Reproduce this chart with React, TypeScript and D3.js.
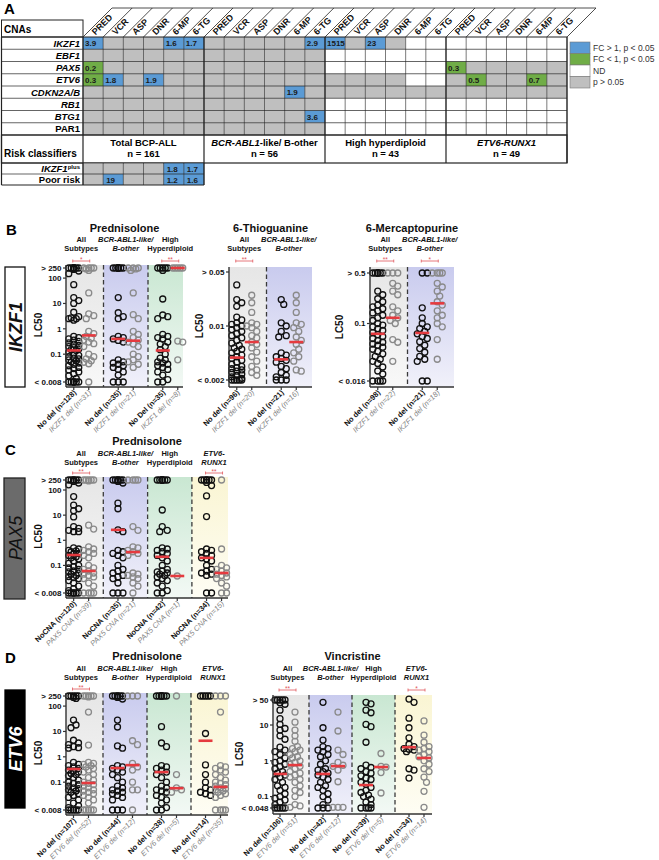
import React from "react";
import * as d3 from "d3";

const FONT = "'Liberation Sans', Arial, Helvetica, sans-serif";
const W = 659;
const H = 860;

// ================= Panel A data =================
const drugs = ["PRED", "VCR", "ASP", "DNR", "6-MP", "6-TG"];
const subgroupParts: [string, boolean][][] = [
  [["Total BCP-ALL", false]],
  [["BCR-ABL1", true], ["-like/ B-other", false]],
  [["High hyperdiploid", false]],
  [["ETV6-RUNX1", true]],
];
const subgroupN = ["n = 161", "n = 56", "n = 43", "n = 49"];
const cnaRows = ["IKZF1", "EBF1", "PAX5", "ETV6", "CDKN2A/B", "RB1", "BTG1", "PAR1"];
const cnaItalic = [true, true, true, true, true, true, true, false];
const cnaStatus = [
  "bsssbb" + "sssssb" + "bsbsww" + "wwwwww",
  "ssssss" + "ssssss" + "wwwwww" + "wwwwww",
  "gsssss" + "ssssss" + "wwwwww" + "gsssss",
  "gbsbss" + "ssssss" + "ssssww" + "sgssgs",
  "ssssss" + "ssssbs" + "ssssss" + "ssssss",
  "ssssss" + "ssssss" + "wwwwww" + "wwwwww",
  "ssssss" + "sssssb" + "wwwwww" + "wwwwww",
  "ssssss" + "ssssss" + "wwwwww" + "wwwwww",
];
const cnaValues: [string, number, string][] = [
  ["IKZF1", 0, "3.9"], ["IKZF1", 4, "1.6"], ["IKZF1", 5, "1.7"], ["IKZF1", 11, "2.9"],
  ["IKZF1", 12, "1515"], ["IKZF1", 14, "23"],
  ["PAX5", 0, "0.2"], ["PAX5", 18, "0.3"],
  ["ETV6", 0, "0.3"], ["ETV6", 1, "1.8"], ["ETV6", 3, "1.9"], ["ETV6", 19, "0.5"], ["ETV6", 22, "0.7"],
  ["CDKN2A/B", 10, "1.9"], ["BTG1", 11, "3.6"],
];
const riskRows = ["IKZF1plus", "Poor risk"];
const riskStatus = ["ssssbb", "sbssbb"];
const riskValues: [string, number, string][] = [
  ["IKZF1plus", 4, "1.8"], ["IKZF1plus", 5, "1.7"],
  ["Poor risk", 1, "19"], ["Poor risk", 4, "1.2"], ["Poor risk", 5, "1.6"],
];
const legendKeys = ["b", "g", "w", "s"];
const legendLabels = ["FC > 1, p < 0.05", "FC < 1, p < 0.05", "ND", "p > 0.05"];
const cellFill: Record<string, string> = { b: "#5b9bd5", g: "#70ad47", w: "#ffffff", s: "#bfbfbf" };

// ================= Dot plot data =================
const predTicks = [0.008, 0.1, 1, 10, 100, 250];
const predTickLabels = ["< 0.008", "0.1", "1", "10", "100", "> 250"];
const tgTicks = [0.002, 0.01, 0.05];
const tgTickLabels = ["< 0.002", "0.01", "> 0.05"];
const mpTicks = [0.016, 0.1, 0.5];
const mpTickLabels = ["< 0.016", "0.1", "> 0.5"];
const vcrTicks = [0.048, 0.1, 1, 10, 50];
const vcrTickLabels = ["< 0.048", "0.1", "1", "10", "> 50"];

// B – Prednisolone / IKZF1
const bPredAllNo = [250, 250, 250, 250, 250, 250, 250, 250, 220, 190, 150, 55, 17, 13, 10, 4.5, 3, 2.7, 2.5, 2.5, 2.2, 0.5, 0.45, 0.4, 0.36, 0.32, 0.28, 0.25, 0.22, 0.2, 0.18, 0.16, 0.15, 0.14, 0.12, 0.1, 0.09, 0.08, 0.07, 0.065, 0.06, 0.055, 0.05, 0.045, 0.04, 0.035, 0.03, 0.027, 0.024, 0.02, 0.017, 0.014, 0.011, 0.008, 0.008, 0.008, 0.008, 0.008, 0.008, 0.008];
const bPredAllDel = [250, 250, 250, 250, 230, 200, 26, 3.9, 3.3, 2.5, 0.8, 0.65, 0.5, 0.42, 0.36, 0.3, 0.26, 0.2, 0.1, 0.08, 0.065, 0.055, 0.048, 0.042, 0.008];
const bPredBcrNo = [250, 250, 250, 250, 250, 250, 250, 250, 17, 4.3, 3, 2.5, 0.5, 0.45, 0.4, 0.35, 0.3, 0.06, 0.05, 0.045, 0.04, 0.035, 0.03, 0.025, 0.02, 0.015, 0.008, 0.008, 0.008];
const bPredBcrDel = [250, 250, 250, 230, 200, 26, 3.6, 2.5, 0.8, 0.6, 0.45, 0.36, 0.3, 0.25, 0.2, 0.1, 0.08, 0.06, 0.05, 0.04, 0.03];
const bPredHhNo = [250, 250, 250, 250, 250, 200, 15, 3.5, 3, 2.5, 0.6, 0.5, 0.45, 0.4, 0.3, 0.25, 0.2, 0.15, 0.1, 0.07, 0.06, 0.05, 0.045, 0.04, 0.035, 0.03, 0.025, 0.02, 0.015, 0.01, 0.008, 0.008];
const bPredHhDel = [250, 250, 250, 250, 250, 0.33, 0.3, 0.06];
const bPredMedians = [0.14, 0.55, 0.4, 0.34, 0.14, 250];
const bPredLabels = ["No del (n=128)", "IKZF1 del (n=31)", "No del (n=35)", "IKZF1 del (n=21)", "No Del (n=35)", "IKZF1 del (n=8)"];

// B – 6-Thioguanine
const bTgAllNo = [0.034, 0.022, 0.02, 0.018, 0.013, 0.012, 0.011, 0.0105, 0.01, 0.0095, 0.009, 0.0085, 0.008, 0.0075, 0.007, 0.0065, 0.006, 0.0056, 0.0052, 0.005, 0.0047, 0.0045, 0.0042, 0.004, 0.0038, 0.0036, 0.0034, 0.0032, 0.003, 0.0029, 0.0028, 0.0027, 0.0026, 0.0025, 0.0024, 0.0023, 0.0022, 0.0021, 0.002, 0.002, 0.002, 0.002, 0.002];
const bTgAllDel = [0.025, 0.02, 0.015, 0.011, 0.0105, 0.01, 0.0095, 0.0085, 0.0075, 0.007, 0.0062, 0.0058, 0.0052, 0.0046, 0.004, 0.0035, 0.003, 0.0027, 0.0025, 0.0023];
const bTgBcrNo = [0.022, 0.019, 0.011, 0.01, 0.0085, 0.0075, 0.0072, 0.0045, 0.0042, 0.004, 0.0038, 0.0036, 0.0034, 0.003, 0.0028, 0.0025, 0.0023, 0.0022, 0.002, 0.002, 0.002];
const bTgBcrDel = [0.025, 0.02, 0.015, 0.011, 0.0105, 0.0095, 0.0085, 0.0072, 0.0065, 0.0058, 0.005, 0.0045, 0.004, 0.0035, 0.0027, 0.0026];
const bTgMedians = [0.0039, 0.0062, 0.0037, 0.0062];
const bTgLabels = ["No del (n=96)", "IKZF1 del (n=20)", "No del (n=21)", "IKZF1 del (n=16)"];

// B – 6-Mercaptopurine
const bMpAllNo = [0.5, 0.5, 0.5, 0.5, 0.5, 0.5, 0.5, 0.28, 0.25, 0.22, 0.2, 0.18, 0.17, 0.16, 0.15, 0.14, 0.13, 0.12, 0.11, 0.1, 0.095, 0.09, 0.085, 0.08, 0.075, 0.07, 0.066, 0.062, 0.058, 0.055, 0.052, 0.05, 0.047, 0.044, 0.041, 0.038, 0.035, 0.032, 0.03, 0.028, 0.025, 0.022, 0.02, 0.016, 0.016, 0.016, 0.016];
const bMpAllDel = [0.5, 0.5, 0.5, 0.36, 0.33, 0.28, 0.25, 0.17, 0.15, 0.13, 0.12, 0.11, 0.1, 0.06, 0.055, 0.03];
const bMpBcrNo = [0.5, 0.5, 0.165, 0.12, 0.1, 0.09, 0.085, 0.078, 0.072, 0.066, 0.062, 0.056, 0.05, 0.045, 0.04, 0.035, 0.032, 0.03, 0.016, 0.016];
const bMpBcrDel = [0.5, 0.5, 0.5, 0.5, 0.36, 0.32, 0.28, 0.24, 0.2, 0.18, 0.15, 0.13, 0.12, 0.1, 0.09, 0.06, 0.032];
const bMpMedians = [0.072, 0.12, 0.074, 0.19];
const bMpLabels = ["No del (n=98)", "IKZF1 del (n=22)", "No del (n=21)", "IKZF1 del (n=18)"];

// C – Prednisolone / PAX5
const cAllNo = [250, 250, 250, 250, 250, 250, 220, 190, 160, 55, 25, 18, 15, 8.5, 3.5, 3, 2.5, 2.2, 2.2, 0.5, 0.45, 0.4, 0.38, 0.35, 0.3, 0.28, 0.25, 0.22, 0.2, 0.18, 0.15, 0.12, 0.1, 0.09, 0.08, 0.07, 0.06, 0.055, 0.05, 0.045, 0.04, 0.036, 0.033, 0.03, 0.025, 0.02, 0.015, 0.012, 0.01, 0.008, 0.008, 0.008, 0.008, 0.008, 0.008];
const cAllCna = [250, 250, 250, 250, 250, 230, 4, 2.8, 0.55, 0.45, 0.4, 0.35, 0.3, 0.25, 0.2, 0.1, 0.08, 0.07, 0.06, 0.05, 0.045, 0.04, 0.035, 0.03, 0.02, 0.015, 0.008, 0.008, 0.008, 0.008];
const cBcrNo = [250, 250, 250, 250, 250, 250, 220, 190, 30, 18, 2.6, 2.2, 0.4, 0.35, 0.3, 0.25, 0.2, 0.1, 0.07, 0.06, 0.05, 0.04, 0.035, 0.03, 0.02, 0.008, 0.008, 0.008];
const cBcrCna = [250, 250, 250, 250, 3.5, 2.5, 0.55, 0.5, 0.4, 0.35, 0.3, 0.25, 0.05, 0.045, 0.04, 0.035, 0.03, 0.02, 0.015, 0.008];
const cHhNo = [250, 250, 250, 250, 250, 250, 250, 250, 16, 3.5, 2.5, 2.2, 0.5, 0.45, 0.4, 0.35, 0.3, 0.25, 0.2, 0.15, 0.1, 0.07, 0.06, 0.055, 0.05, 0.045, 0.04, 0.035, 0.03, 0.025, 0.02, 0.015, 0.01, 0.008, 0.008];
const cHhCna = [0.038];
const cErNo = [250, 250, 250, 250, 250, 250, 200, 150, 58, 8.8, 0.45, 0.4, 0.35, 0.3, 0.25, 0.2, 0.18, 0.15, 0.1, 0.07, 0.06, 0.05, 0.045, 0.04, 0.008, 0.008];
const cErCna = [250, 0.45, 0.1, 0.08, 0.07, 0.06, 0.05, 0.045, 0.04, 0.035, 0.03, 0.02, 0.015, 0.008, 0.008];
const cMedians = [0.26, 0.06, 2.6, 0.34, 0.22, 0.038, 0.2, 0.05];
const cLabels = ["NoCNA (n=120)", "PAX5 CNA (n=39)", "NoCNA (n=35)", "PAX5 CNA (n=21)", "NoCNA (n=42)", "PAX5 CNA (n=1)", "NoCNA (n=34)", "PAX5 CNA (n=15)"];

// D – Prednisolone / ETV6
const dPAllNo = [250, 250, 250, 250, 250, 220, 200, 28, 18, 14, 4.5, 3.5, 3, 2.5, 2.3, 2.2, 0.6, 0.5, 0.45, 0.4, 0.35, 0.3, 0.28, 0.25, 0.22, 0.2, 0.18, 0.15, 0.12, 0.1, 0.09, 0.08, 0.07, 0.06, 0.055, 0.05, 0.045, 0.04, 0.035, 0.03, 0.025, 0.02, 0.015, 0.012, 0.01, 0.008, 0.008, 0.008, 0.008, 0.008];
const dPAllDel = [250, 250, 250, 250, 250, 230, 58, 2.9, 0.6, 0.55, 0.5, 0.45, 0.4, 0.35, 0.3, 0.25, 0.2, 0.15, 0.12, 0.1, 0.09, 0.08, 0.07, 0.06, 0.05, 0.045, 0.04, 0.035, 0.03, 0.025, 0.02, 0.015, 0.008, 0.008, 0.008, 0.008, 0.008];
const dPBcrNo = [250, 250, 250, 250, 250, 250, 220, 190, 28, 15, 2.7, 2.2, 0.45, 0.4, 0.35, 0.3, 0.25, 0.2, 0.15, 0.1, 0.07, 0.06, 0.05, 0.045, 0.04, 0.035, 0.03, 0.025, 0.02, 0.008, 0.008, 0.008];
const dPBcrDel = [250, 250, 250, 4.3, 3, 0.55, 0.4, 0.3, 0.1, 0.05, 0.05, 0.008];
const dPHhNo = [250, 250, 250, 250, 250, 250, 250, 250, 15.5, 3.5, 2.5, 0.45, 0.4, 0.35, 0.3, 0.25, 0.2, 0.15, 0.1, 0.07, 0.06, 0.05, 0.045, 0.04, 0.03, 0.025, 0.02, 0.015, 0.01, 0.008, 0.008];
const dPHhDel = [250, 0.2, 0.06, 0.05, 0.04];
const dPErNo = [250, 250, 250, 250, 250, 8.3, 0.48, 0.2, 0.1, 0.06, 0.05, 0.04, 0.035, 0.03];
const dPErDel = [250, 250, 250, 58, 0.45, 0.4, 0.35, 0.3, 0.25, 0.2, 0.15, 0.12, 0.1, 0.09, 0.08, 0.07, 0.06, 0.055, 0.05, 0.045, 0.04, 0.035, 0.03, 0.025, 0.008, 0.008, 0.008, 0.008];
const dPMedians = [0.33, 0.093, 0.36, 0.47, 0.25, 0.058, 4.3, 0.065];
const dPLabels = ["No del (n=107)", "ETV6 del (n=52)", "No del (n=44)", "ETV6 del (n=12)", "No del (n=38)", "ETV6 del (n=5)", "No del (n=14)", "ETV6 del (n=35)"];

// D – Vincristine / ETV6
const dVAllNo = [50, 50, 50, 50, 50, 42, 38, 26, 15, 10.4, 8, 7.2, 5, 4, 2.4, 2, 1.8, 1.5, 1.2, 1.0, 0.9, 0.8, 0.7, 0.6, 0.5, 0.45, 0.4, 0.35, 0.3, 0.25, 0.2, 0.18, 0.15, 0.12, 0.1, 0.09, 0.08, 0.07, 0.06, 0.048, 0.048, 0.048, 0.048, 0.048];
const dVAllDel = [23, 12, 7.2, 5, 3.5, 2.5, 2.2, 2, 1.8, 1.5, 1.3, 1.2, 1.0, 0.9, 0.8, 0.7, 0.6, 0.5, 0.45, 0.4, 0.35, 0.3, 0.25, 0.2, 0.15, 0.13, 0.1, 0.06, 0.055, 0.05];
const dVBcrNo = [43, 8.4, 3.8, 2.5, 2.2, 2, 1.8, 1.5, 1.3, 1.0, 0.8, 0.6, 0.55, 0.5, 0.45, 0.4, 0.35, 0.3, 0.25, 0.2, 0.18, 0.15, 0.12, 0.1, 0.08, 0.06, 0.048, 0.048, 0.048];
const dVBcrDel = [23, 6.8, 2.0, 1.5, 0.9, 0.75, 0.7, 0.55, 0.26, 0.05, 0.05, 0.05];
const dVHhNo = [43, 39, 26, 22, 10.4, 9, 3.3, 0.76, 0.65, 0.6, 0.5, 0.45, 0.38, 0.33, 0.3, 0.25, 0.22, 0.18, 0.15, 0.13, 0.11, 0.1, 0.085, 0.07, 0.06, 0.048, 0.048, 0.048, 0.048];
const dVHhDel = [1.6, 0.7, 0.67, 0.47, 0.126];
const dVErNo = [53, 43, 15.5, 8.4, 4.4, 2.9, 2.5, 2.2, 2.1, 2, 1.8, 0.6, 0.55, 0.33];
const dVErDel = [13, 5.2, 3.3, 2.5, 2.2, 2, 1.8, 1.5, 1.3, 1.2, 1.0, 0.8, 0.6, 0.5, 0.35, 0.25, 0.14, 0.05];
const dVMedians = [0.43, 0.76, 0.43, 0.71, 0.21, 0.67, 2.4, 1.2];
const dVLabels = ["No del (n=106)", "ETV6 del (n=51)", "No del (n=42)", "ETV6 del (n=12)", "No del (n=39)", "ETV6 del (n=5)", "No del (n=34)", "ETV6 del (n=14)"];

// Region keys / subtitles
const regionKeys = ["all", "bcr", "hh", "er"];
const regionLine1 = ["All", "BCR-ABL1-like/", "High", "ETV6-"];
const regionLine2 = ["Subtypes", "B-other", "Hyperdiploid", "RUNX1"];
const regionItalic = [false, true, false, true];
const regionTop = ["#e6e6e6", "#c9cbee", "#c9e7d2", "#faf5d3"];
const regionBottom = ["#f8f8f8", "#f1f1fa", "#f3f9f5", "#fefdf4"];

type PanelCfg = {
  title: string; titleY: number; sub1Y: number; sub2Y: number;
  x0: number; bandW: number; right: number;
  yTop: number; yBot: number; axisY: number; bgTop: number;
  domain: [number, number]; ticks: number[]; tickLabels: string[];
  regions: number[]; cols: number[][]; medians: number[]; labels: string[];
  brackets: [number, string][]; bracketY: number; lc50X: number;
};

const panels: PanelCfg[] = [
  {
    title: "Prednisolone", titleY: 232, sub1Y: 242, sub2Y: 251,
    x0: 66, bandW: 44.5, right: 183, yTop: 268, yBot: 382, axisY: 387, bgTop: 265,
    domain: [0.008, 250], ticks: predTicks, tickLabels: predTickLabels,
    regions: [0, 1, 2], cols: [bPredAllNo, bPredAllDel, bPredBcrNo, bPredBcrDel, bPredHhNo, bPredHhDel],
    medians: bPredMedians, labels: bPredLabels, brackets: [[0, "*"], [2, "**"]], bracketY: 261, lc50X: 42,
  },
  {
    title: "6-Thioguanine", titleY: 232, sub1Y: 242, sub2Y: 251,
    x0: 229, bandW: 44.5, right: 312, yTop: 272, yBot: 380, axisY: 387, bgTop: 267,
    domain: [0.002, 0.05], ticks: tgTicks, tickLabels: tgTickLabels,
    regions: [0, 1], cols: [bTgAllNo, bTgAllDel, bTgBcrNo, bTgBcrDel],
    medians: bTgMedians, labels: bTgLabels, brackets: [[0, "**"]], bracketY: 261, lc50X: 203,
  },
  {
    title: "6-Mercaptopurine", titleY: 232, sub1Y: 242, sub2Y: 251,
    x0: 370, bandW: 44.5, right: 454, yTop: 273, yBot: 381, axisY: 387, bgTop: 267,
    domain: [0.016, 0.5], ticks: mpTicks, tickLabels: mpTickLabels,
    regions: [0, 1], cols: [bMpAllNo, bMpAllDel, bMpBcrNo, bMpBcrDel],
    medians: bMpMedians, labels: bMpLabels, brackets: [[0, "**"], [1, "*"]], bracketY: 261, lc50X: 343,
  },
  {
    title: "Prednisolone", titleY: 445, sub1Y: 456, sub2Y: 465,
    x0: 66, bandW: 44.3, right: 228, yTop: 480, yBot: 593, axisY: 598, bgTop: 477,
    domain: [0.008, 250], ticks: predTicks, tickLabels: predTickLabels,
    regions: [0, 1, 2, 3], cols: [cAllNo, cAllCna, cBcrNo, cBcrCna, cHhNo, cHhCna, cErNo, cErCna],
    medians: cMedians, labels: cLabels, brackets: [[0, "**"], [3, "**"]], bracketY: 473, lc50X: 42,
  },
  {
    title: "Prednisolone", titleY: 660, sub1Y: 671, sub2Y: 680,
    x0: 66, bandW: 44, right: 228, yTop: 696, yBot: 810, axisY: 815, bgTop: 693,
    domain: [0.008, 250], ticks: predTicks, tickLabels: predTickLabels,
    regions: [0, 1, 2, 3], cols: [dPAllNo, dPAllDel, dPBcrNo, dPBcrDel, dPHhNo, dPHhDel, dPErNo, dPErDel],
    medians: dPMedians, labels: dPLabels, brackets: [[0, "**"]], bracketY: 689, lc50X: 42,
  },
  {
    title: "Vincristine", titleY: 660, sub1Y: 671, sub2Y: 680,
    x0: 273, bandW: 43, right: 432, yTop: 700, yBot: 808, axisY: 814, bgTop: 695,
    domain: [0.048, 50], ticks: vcrTicks, tickLabels: vcrTickLabels,
    regions: [0, 1, 2, 3], cols: [dVAllNo, dVAllDel, dVBcrNo, dVBcrDel, dVHhNo, dVHhDel, dVErNo, dVErDel],
    medians: dVMedians, labels: dVLabels, brackets: [[0, "**"], [3, "*"]], bracketY: 690, lc50X: 243,
  },
];

// ================= helpers =================
function swarm(values: number[], y: (v: number) => number, cx: number, r: number, maxOff: number) {
  const pts = values.map((v) => ({ v, y: y(v) })).sort((a, b) => a.y - b.y);
  const placed: { x: number; y: number }[] = [];
  const step = 2.5;
  const cands = [0];
  for (let k = 1; k * step <= maxOff + 0.01; k++) cands.push(k * step, -k * step);
  for (const p of pts) {
    let best = 0;
    let bestScore = -Infinity;
    for (const dx of cands) {
      let minD = Infinity;
      for (const q of placed) {
        const d = Math.hypot(q.x - (cx + dx), q.y - p.y);
        if (d < minD) minD = d;
      }
      if (minD >= r * 1.75) { best = dx; break; }
      if (minD > bestScore) { bestScore = minD; best = dx; }
    }
    placed.push({ x: cx + best, y: p.y });
  }
  return placed;
}

const RED = "#e53a3f";

function DotPanel({ p }: { p: PanelCfg }) {
  const n = p.regions.length;
  const band = d3.scaleBand<number>().domain(d3.range(n)).range([p.x0 - 7, p.x0 - 7 + n * p.bandW]);
  const y = d3.scaleLog().domain(p.domain).range([p.yBot, p.yTop]);
  const cx = (i: number) => (band(Math.floor(i / 2)) as number) + p.bandW / 2 + (i % 2 === 0 ? -7.5 : 7.5);
  const midX = (p.x0 + p.right) / 2;
  const rc = (i: number) => (band(i) as number) + p.bandW / 2;
  return (
    <g fontFamily={FONT}>
      {p.regions.map((rk, i) => {
        const x1 = Math.max(band(i) as number, p.x0);
        const x2 = i === n - 1 ? p.right : (band(i) as number) + p.bandW;
        return <rect key={"bg" + i} x={x1} y={p.bgTop} width={x2 - x1} height={p.axisY - p.bgTop} fill={`url(#grad-${regionKeys[rk]})`} />;
      })}
      {d3.range(1, n).map((i) => (
        <line key={"sep" + i} x1={band(i)} x2={band(i)} y1={p.bgTop} y2={p.axisY} stroke="#3a3a3a" strokeWidth={1.3} strokeDasharray="4.5,3" />
      ))}
      <text x={midX} y={p.titleY} textAnchor="middle" fontSize={11} fontWeight="bold" fill="#111">{p.title}</text>
      {p.regions.map((rk, i) => (
        <g key={"sub" + i} fontSize={7.5} fontWeight="bold" fill="#111" fontStyle={regionItalic[rk] ? "italic" : "normal"}>
          <text x={rc(i)} y={p.sub1Y} textAnchor="middle">{regionLine1[rk]}</text>
          <text x={rc(i)} y={p.sub2Y} textAnchor="middle">{regionLine2[rk]}</text>
        </g>
      ))}
      {p.cols.map((vals, i) => {
        const pts = swarm(vals, (v) => y(v), cx(i), 3, 5);
        const col = i % 2 === 0 ? "#111" : "#8a8a8a";
        return (
          <g key={"c" + i}>
            {pts.map((q, j) => (
              <circle key={j} cx={q.x} cy={q.y} r={3} fill="none" stroke={col} strokeWidth={1.3} />
            ))}
          </g>
        );
      })}
      {p.medians.map((m, i) => (
        <line key={"m" + i} x1={cx(i) - 7} x2={cx(i) + 7} y1={y(m)} y2={y(m)} stroke={RED} strokeWidth={2.6} />
      ))}
      {p.brackets.map(([ri, s], k) => {
        const a = cx(ri * 2) - 1;
        const b = cx(ri * 2 + 1) + 1;
        return (
          <g key={"br" + k} stroke="#e0565b" strokeWidth={0.8} fill="none">
            <line x1={a} x2={b} y1={p.bracketY} y2={p.bracketY} />
            <line x1={a} x2={a} y1={p.bracketY - 1.5} y2={p.bracketY + 1.5} />
            <line x1={b} x2={b} y1={p.bracketY - 1.5} y2={p.bracketY + 1.5} />
            <text x={(a + b) / 2} y={p.bracketY + 0.5} textAnchor="middle" fontSize={6.5} fill="#e0565b" stroke="none">{s}</text>
          </g>
        );
      })}
      <line x1={p.x0} x2={p.x0} y1={p.bgTop} y2={p.axisY} stroke="#333" strokeWidth={1.4} />
      <line x1={p.x0} x2={p.right} y1={p.axisY} y2={p.axisY} stroke="#333" strokeWidth={1.4} />
      {p.ticks.map((t, i) => (
        <g key={"t" + i}>
          <line x1={p.x0 - 3} x2={p.x0} y1={y(t)} y2={y(t)} stroke="#333" strokeWidth={1.2} />
          <text x={p.x0 - 4.5} y={y(t) + 2.8} textAnchor="end" fontSize={8} fontWeight="bold" fill="#111">{p.tickLabels[i]}</text>
        </g>
      ))}
      {p.cols.map((_, i) => (
        <line key={"xt" + i} x1={cx(i)} x2={cx(i)} y1={p.axisY} y2={p.axisY + 3} stroke="#333" strokeWidth={1.2} />
      ))}
      <text transform={`translate(${p.lc50X},${(p.yTop + p.yBot) / 2}) rotate(-90)`} textAnchor="middle" fontSize={10} fontWeight="bold" fill="#111">LC50</text>
      {p.labels.map((lab, i) => (
        <text key={"xl" + i} transform={`translate(${cx(i) + 3},${p.axisY + 6}) rotate(-45)`} textAnchor="end" fontSize={7.5}
          fontWeight={i % 2 === 0 ? "bold" : "normal"} fontStyle={i % 2 === 0 ? "normal" : "italic"} fill={i % 2 === 0 ? "#111" : "#858585"}>
          {lab}
        </text>
      ))}
    </g>
  );
}

function TablePanel() {
  const col = d3.scaleBand<number>().domain(d3.range(24)).range([83, 567]);
  const row = d3.scaleBand<string>().domain(cnaRows).range([37, 135]);
  const rrow = d3.scaleBand<string>().domain(riskRows).range([163, 185]);
  const bw = col.bandwidth();
  const bh = row.bandwidth();
  const rh = rrow.bandwidth();
  const left = 1.5;
  const groupX = [0, 6, 12, 18, 24].map((i) => (i < 24 ? (col(i) as number) : 567));
  return (
    <g fontFamily={FONT}>
      <text x={4} y={14} fontSize={15} fontWeight="bold">A</text>
      {d3.range(25).map((i) => {
        const x = i < 24 ? (col(i) as number) : 567;
        return <line key={"d" + i} x1={x} y1={37} x2={x + 29} y2={8} stroke="#222" strokeWidth={0.8} />;
      })}
      <line x1={83 + 29} x2={567 + 29} y1={8} y2={8} stroke="#222" strokeWidth={0.8} />
      {d3.range(24).map((i) => (
        <text key={"h" + i} transform={`translate(${(col(i) as number) + 12.5},${35.5}) rotate(-45)`} fontSize={9} fontWeight="bold" fill="#111">
          {drugs[i % 6]}
        </text>
      ))}
      <rect x={left} y={20} width={83 - left} height={17} fill="none" stroke="#222" strokeWidth={1} />
      <text x={4} y={33} fontSize={10} fontWeight="bold">CNAs</text>
      {cnaRows.map((r, ri) => (
        <g key={r}>
          {d3.range(24).map((c) => (
            <rect key={c} x={col(c)} y={row(r)} width={bw} height={bh} fill={cellFill[cnaStatus[ri][c]]} />
          ))}
          <text x={80} y={(row(r) as number) + bh / 2 + 3.5} textAnchor="end" fontSize={9.5} fontWeight="bold" fontStyle={cnaItalic[ri] ? "italic" : "normal"}>{r}</text>
        </g>
      ))}
      {cnaValues.map(([r, c, t], i) => (
        <text key={"v" + i} x={(col(c) as number) + 2} y={(row(r) as number) + bh / 2 + 3} fontSize={8} fontWeight="bold" fill="#1a1a1a">{t}</text>
      ))}
      {d3.range(25).map((i) => {
        const x = i < 24 ? (col(i) as number) : 567;
        return <line key={"vg" + i} x1={x} x2={x} y1={37} y2={135} stroke="#222" strokeWidth={i % 6 === 0 ? 1.4 : 0.6} />;
      })}
      {d3.range(cnaRows.length + 1).map((i) => {
        const yy = 37 + i * bh;
        return <line key={"hg" + i} x1={left} x2={567} y1={yy} y2={yy} stroke="#222" strokeWidth={i === 0 ? 1.2 : 0.7} />;
      })}
      <line x1={left} x2={left} y1={37} y2={185} stroke="#222" strokeWidth={1.2} />
      <rect x={left} y={135} width={567 - left} height={28} fill="none" stroke="#222" strokeWidth={1.2} />
      {groupX.map((x, i) => (
        <line key={"gx" + i} x1={i === 0 ? 83 : x} x2={i === 0 ? 83 : x} y1={135} y2={163} stroke="#222" strokeWidth={1.2} />
      ))}
      <text x={4} y={157} fontSize={10} fontWeight="bold">Risk classifiers</text>
      {subgroupParts.map((parts, i) => {
        const cxg = (groupX[i] + groupX[i + 1]) / 2;
        return (
          <g key={"sg" + i} fontSize={9.5} fontWeight="bold" textAnchor="middle">
            <text x={cxg} y={146}>
              {parts.map(([t, it], k) => (
                <tspan key={k} fontStyle={it ? "italic" : "normal"}>{t}</tspan>
              ))}
            </text>
            <text x={cxg} y={157}>{subgroupN[i]}</text>
          </g>
        );
      })}
      {riskRows.map((r, ri) => (
        <g key={r}>
          {d3.range(6).map((c) => (
            <rect key={c} x={col(c)} y={rrow(r)} width={bw} height={rh} fill={cellFill[riskStatus[ri][c]]} />
          ))}
        </g>
      ))}
      {riskValues.map(([r, c, t], i) => (
        <text key={"rv" + i} x={(col(c) as number) + 3} y={(rrow(r) as number) + rh / 2 + 3} fontSize={8} fontWeight="bold" fill="#1a1a1a">{t}</text>
      ))}
      <text x={80} y={(rrow("IKZF1plus") as number) + rh / 2 + 3.5} textAnchor="end" fontSize={9.5} fontWeight="bold">
        <tspan fontStyle="italic">IKZF1</tspan>
        <tspan fontSize={6} dy={-3}>plus</tspan>
      </text>
      <text x={80} y={(rrow("Poor risk") as number) + rh / 2 + 3.5} textAnchor="end" fontSize={9.5} fontWeight="bold">Poor risk</text>
      {d3.range(7).map((i) => {
        const x = i < 6 ? (col(i) as number) : 204;
        return <line key={"rvg" + i} x1={x} x2={x} y1={163} y2={185} stroke="#222" strokeWidth={i % 6 === 0 ? 1.4 : 0.6} />;
      })}
      {[163, 174, 185].map((yy, i) => (
        <line key={"rhg" + i} x1={left} x2={204} y1={yy} y2={yy} stroke="#222" strokeWidth={i === 2 ? 1.2 : 0.7} />
      ))}
      {legendKeys.map((k, i) => (
        <g key={"lg" + k}>
          <rect x={570} y={42 + i * 11.5} width={20} height={11.5} fill={cellFill[k]} stroke="#777" strokeWidth={0.6} />
          <text x={593} y={42 + i * 11.5 + 8.5} fontSize={8.5} fill="#333">{legendLabels[i]}</text>
        </g>
      ))}
    </g>
  );
}

export default function App() {
  return (
    <svg width={W} height={H} viewBox={`0 0 ${W} ${H}`} style={{ position: "absolute", left: 0, top: 0, background: "#fff" }}>
      <defs>
        {regionKeys.map((k, i) => (
          <linearGradient key={k} id={`grad-${k}`} x1="0" y1="0" x2="0" y2="1">
            <stop offset="0%" stopColor={regionTop[i]} />
            <stop offset="100%" stopColor={regionBottom[i]} />
          </linearGradient>
        ))}
      </defs>
      <rect x={0} y={0} width={W} height={H} fill="#fff" />
      <TablePanel />
      <g fontFamily={FONT} fontSize={15} fontWeight="bold">
        <text x={6} y={235}>B</text>
        <text x={5} y={455}>C</text>
        <text x={5} y={663}>D</text>
      </g>
      <g fontFamily={FONT}>
        <rect x={5} y={267} width={20} height={120} fill="#fff" stroke="#111" strokeWidth={1.3} />
        <text transform="translate(21.5,327) rotate(-90)" textAnchor="middle" fontSize={18} fontWeight="bold" fontStyle="italic" fill="#111">IKZF1</text>
        <rect x={4} y={478} width={21} height={121} fill="#6b6b6b" stroke="#222" strokeWidth={1.3} />
        <text transform="translate(21.5,538) rotate(-90)" textAnchor="middle" fontSize={18} fontStyle="italic" fill="#111">PAX5</text>
        <rect x={5} y={690} width={20} height={118} fill="#000" stroke="#000" strokeWidth={1.3} />
        <text transform="translate(21.5,749) rotate(-90)" textAnchor="middle" fontSize={18} fontWeight="bold" fontStyle="italic" fill="#fff">ETV6</text>
      </g>
      {panels.map((p, i) => (
        <DotPanel key={i} p={p} />
      ))}
    </svg>
  );
}
